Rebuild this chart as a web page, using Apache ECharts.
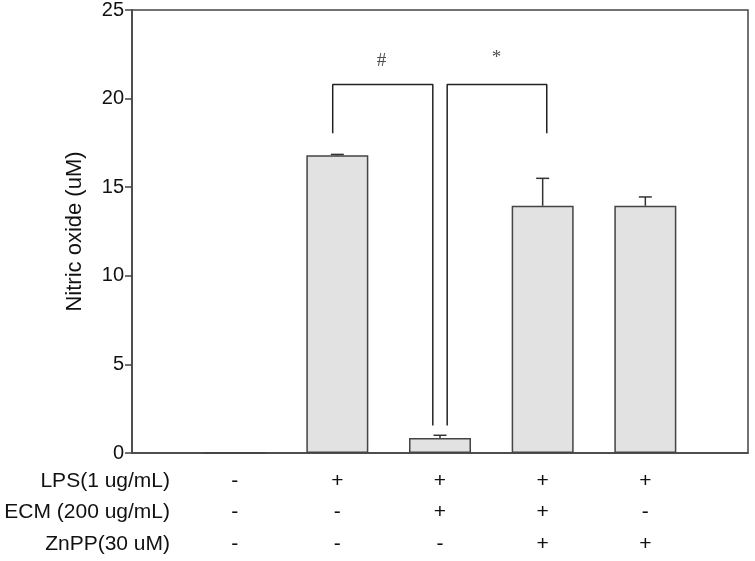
<!DOCTYPE html>
<html>
<head>
<meta charset="utf-8">
<script src="https://cdn.jsdelivr.net/npm/echarts@6/dist/echarts.min.js"></script>
<style>html,body{margin:0;padding:0;background:#fff}#c{width:755px;height:561px}</style>
</head>
<body>
<div id="c"></div>
<script>
// ---- data ----
const groupPositions = [1, 2, 3, 4, 5];
const meanValues = [0, 16.8, 0.85, 13.95, 13.95];
const upperErrors = [0, 16.85, 1.0, 15.5, 14.45];
const rowNames = ['LPS(1 ug/mL)', 'ECM (200 ug/mL)', 'ZnPP(30 uM)'];
const lpsRow = ['-', '+', '+', '+', '+'];
const ecmRow = ['-', '-', '+', '+', '-'];
const znppRow = ['-', '-', '-', '+', '+'];
const yTicks = [0, 5, 10, 15, 20, 25];
const bracketHash = [[1.955, 18.05], [1.955, 20.8], [2.93, 20.8], [2.93, 1.55]];
const bracketStar = [[3.07, 1.55], [3.07, 20.8], [4.04, 20.8], [4.04, 18.05]];
const signifMarks = [[2.43, 22.1, '#'], [3.55, 22.3, '*']];

const FONT = 'Liberation Sans, Arial, sans-serif';
const chart = echarts.init(document.getElementById('c'));
const barData = groupPositions.map((x, i) => [x, meanValues[i]]);
const errData = groupPositions.map((x, i) => [x, meanValues[i], upperErrors[i]]);

const option = {
  animation: false,
  grid: { left: 132, right: 7, top: 10, bottom: 108, show: true, borderColor: '#444', borderWidth: 1.5, backgroundColor: 'transparent' },
  xAxis: {
    type: 'value', min: 0, max: 6, interval: 1,
    axisLine: { show: true, lineStyle: { color: '#444', width: 1.5 } },
    axisTick: { show: false },
    splitLine: { show: false },
    axisLabel: {
      margin: 12,
      fontFamily: FONT, fontSize: 21, color: '#111',
      lineHeight: 31.5,
      formatter: function (v) {
        const i = groupPositions.indexOf(v);
        if (i < 0) return '';
        return lpsRow[i] + '\n' + ecmRow[i] + '\n' + znppRow[i];
      }
    }
  },
  yAxis: {
    type: 'value', min: yTicks[0], max: yTicks[yTicks.length - 1], interval: 5,
    name: 'Nitric oxide (uM)', nameLocation: 'middle', nameGap: 46,
    nameTextStyle: { fontFamily: FONT, fontSize: 22, color: '#111' },
    axisLine: { show: true, lineStyle: { color: '#444', width: 1.5 } },
    axisTick: { show: true, length: 7, lineStyle: { color: '#444', width: 1.5 } },
    splitLine: { show: false },
    axisLabel: { margin: 8, fontFamily: FONT, fontSize: 20, color: '#111' }
  },
  graphic: rowNames.map((t, i) => ({
    type: 'text', x: 170, y: 481 + i * 31.5,
    style: { text: t, fontFamily: FONT, fontSize: 21, fill: '#111', textAlign: 'right', textVerticalAlign: 'middle' }
  })),
  series: [
    {
      type: 'bar', data: barData, barWidth: 62,
      itemStyle: { color: '#e2e2e2', borderColor: '#444', borderWidth: 1.5 },
      z: 2
    },
    {
      type: 'custom', data: errData, z: 3,
      renderItem: function (params, api) {
        const x = api.value(0);
        const lo = api.coord([x, api.value(1)]);
        const hi = api.coord([x, api.value(2)]);
        if (Math.abs(lo[1] - hi[1]) < 0.5) return null;
        const half = 6.5;
        return {
          type: 'group', children: [
            { type: 'line', shape: { x1: lo[0], y1: lo[1], x2: hi[0], y2: hi[1] }, style: { stroke: '#333', lineWidth: 1.5 } },
            { type: 'line', shape: { x1: hi[0] - half, y1: hi[1], x2: hi[0] + half, y2: hi[1] }, style: { stroke: '#333', lineWidth: 1.5 } }
          ]
        };
      }
    },
    {
      type: 'line', data: bracketHash, symbol: 'none', z: 4,
      lineStyle: { color: '#222', width: 1.5 }
    },
    {
      type: 'line', data: bracketStar, symbol: 'none', z: 4,
      lineStyle: { color: '#222', width: 1.5 }
    },
    {
      type: 'scatter', data: signifMarks.map(m => ({ value: [m[0], m[1]], name: m[2] })),
      symbolSize: 0.001, z: 5,
      label: { show: true, position: 'inside', formatter: p => p.name, fontFamily: 'Liberation Serif, Times New Roman, serif', fontSize: 19, color: '#222' }
    }
  ]
};
chart.setOption(option);
</script>
</body>
</html>
